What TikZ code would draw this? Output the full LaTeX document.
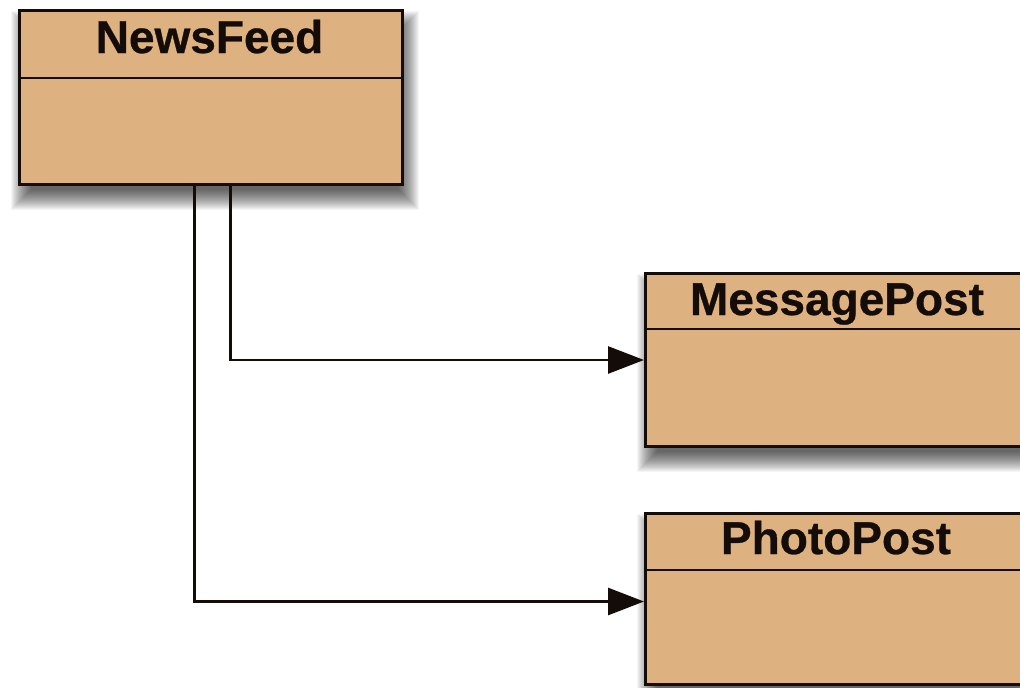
\documentclass[tikz,border=0pt]{standalone}
\usepackage{fontspec}
\setmainfont{Liberation Sans}[BoldFeatures={FakeBold=0.6}]
\usetikzlibrary{arrows.meta,backgrounds}
\definecolor{classtan}{RGB}{222,178,128}
\definecolor{classline}{RGB}{20,12,8}
\pgfdeclarelayer{paper}
\pgfsetlayers{paper,background,main}
\tikzset{
  classbox/.style={draw=classline, line width=3pt, fill=classtan, inner sep=0pt,
    anchor=north west},
  classname/.style={font=\fontsize{46}{54}\selectfont\bfseries, inner sep=0pt,
    anchor=base, text=classline},
  divider/.style={draw=classline, line width=2.6pt},
  link/.style={draw=classline, line width=2.8pt, -{Triangle[length=36pt,width=27pt]}},
  shadowlayer/.style={fill=black, fill opacity=0.04}
}
% soft drop shadow: stacked translucent rectangles, offset below the box
\newcommand{\softshadow}[1]{%
  \foreach \d in {-11,-10,...,9} {
    \fill[shadowlayer]
      ([shift={(4+\d,13+\d)}]#1.north west) rectangle
      ([shift={(4-\d,13-\d)}]#1.south east);
  }%
}
\begin{document}
\begin{tikzpicture}[x=1pt,y=-1pt]
  \begin{pgfonlayer}{paper}
    \fill[white] (0,0) rectangle (1020,688);
  \end{pgfonlayer}
  \useasboundingbox (0,0) rectangle (1020,688);
  \clip (0,0) rectangle (1020,688);

  % class boxes
  \node[classbox, minimum width=383pt, minimum height=174pt] (news) at (18,9) {};
  \node[classbox, minimum width=386pt, minimum height=173pt] (msg) at (644,272) {};
  \node[classbox, minimum width=386pt, minimum height=171pt] (photo) at (644,512) {};

  % shadows behind the boxes
  \begin{scope}[on background layer]
    \softshadow{news}
    \softshadow{msg}
    \softshadow{photo}
  \end{scope}

  % compartment dividers
  \draw[divider] (news.west |- 0,78) -- (news.east |- 0,78);
  \draw[divider] (msg.west |- 0,329) -- (msg.east |- 0,329);
  \draw[divider] (photo.west |- 0,570) -- (photo.east |- 0,570);

  % class names
  \node[classname] (newsname) at (209.5,53) {NewsFeed};
  \node[classname] (msgname) at (837,315) {MessagePost};
  \node[classname] (photoname) at (836,554) {PhotoPost};

  % associations
  \draw[link] ([xshift=19.5pt]news.south) |- (msg.west);
  \draw[link] ([xshift=-16.5pt]news.south) |- ([yshift=-2.5pt]photo.west);
\end{tikzpicture}
\end{document}
